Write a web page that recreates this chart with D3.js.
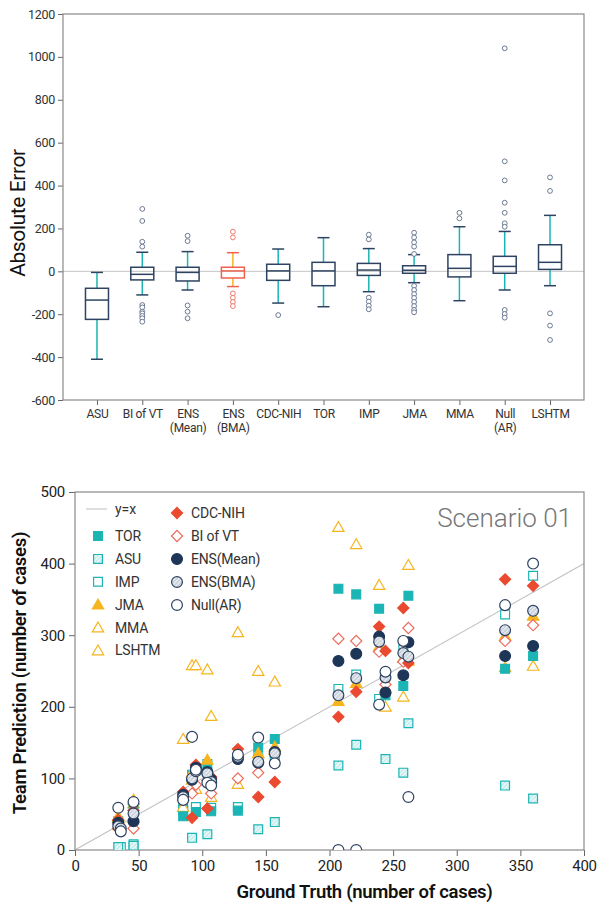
<!DOCTYPE html>
<html><head><meta charset="utf-8">
<script src="https://cdn.jsdelivr.net/npm/d3@7"></script>
<style>
body{margin:0;background:#fff}
text{font-family:Roboto,"Noto Sans",sans-serif}
</style>
</head><body>
<svg id="c" width="604" height="912"></svg>
<script>
// ---------- Box plot data ----------
const boxCategories = ["ASU","BI of VT","ENS\n(Mean)","ENS\n(BMA)","CDC-NIH","TOR","IMP","JMA","MMA","Null\n(AR)","LSHTM"];
const whiskerLow  = [-410,-110,-87,-71,-148,-165,-95,-53,-137,-87,-67];
const q1          = [-224,-40,-45,-31,-42,-67,-19,-9,-26,-9,9];
const median      = [-134,-14,-5,2,2,2,6,5,14,23,42];
const q3          = [-79,19,19,19,33,42,37,26,78,70,124];
const whiskerHigh = [-5,89,92,87,104,157,106,78,208,186,261];
const outliers = [
  [],
  [291,235,138,115,-157,-168,-188,-196,-208,-219,-235],
  [166,141,-159,-188,-219],
  [185,158,-103,-123,-143,-162],
  [-204],
  [],
  [171,149,-123,-141,-160,-177],
  [180,158,135,115,81,-68,-87,-106,-124,-143,-162,-180,-191],
  [273,247],
  [1040,513,424,320,273,224,208,-180,-199,-216],
  [438,375,-196,-253,-320]
];
const boxTicks = [1200,1000,800,600,400,200,0,-200,-400,-600];

// ---------- Scatter data ----------
const groundTruth = [34,36,46,85,92,95,104,107,128,144,157,207,221,239,244,258,262,338,360];
const seriesNames = ["TOR","ASU","IMP","JMA","MMA","LSHTM","CDC-NIH","BI of VT","ENS(Mean)","ENS(BMA)","Null(AR)"];
const predTOR   = [40,null,60,47,105,53,120,54,55,143,155,365,357,337,216,229,355,253,271];
const predASU   = [4,null,6,56,17,null,22,null,null,29,39,118,147,null,127,108,177,90,72];
const predIMP   = [null,4,8,60,null,60,null,59,60,128,130,225,245,211,null,280,null,329,383];
const predJMA   = [47,null,70,75,108,118,126,100,135,135,144,208,233,284,225,268,264,299,327];
const predMMA   = [44,null,65,60,98,85,null,74,92,null,140,null,null,null,200,214,null,255,257];
const predLSHTM = [35,null,45,155,258,258,252,187,304,250,235,451,427,370,null,null,398,null,null];
const predCDC   = [42,null,55,81,45,119,58,102,141,74,95,186,221,312,278,338,261,378,369];
const predBI    = [30,null,30,70,79,91,97,79,100,108,134,295,292,277,231,263,310,292,314];
const predENSMean = [38,null,40,77,98,115,109,98,127,122,137,264,274,298,220,244,290,271,285];
const predENSBMA  = [33,30,51,74,100,110,107,95,130,123,135,216,240,291,241,275,270,307,334];
const predNull    = [59,26,67,70,158,112,94,90,133,157,121,0,0,203,249,292,74,342,400];
const seriesValues = [predTOR,predASU,predIMP,predJMA,predMMA,predLSHTM,predCDC,predBI,predENSMean,predENSBMA,predNull];
const xTicks = [0,50,100,150,200,250,300,350,400];
const yTicks = [0,100,200,300,400,500];

// ---------- styles ----------
const TEAL="#1bb5b5", ORANGE="#f6b51e", RED="#ea4a2f", NAVY="#1d3557", GRAYF="#666";
const styles = {
  "TOR":{shape:"square",fill:TEAL,stroke:TEAL},
  "ASU":{shape:"square",fill:"url(#hatchTeal)",stroke:TEAL},
  "IMP":{shape:"square",fill:"#fff",stroke:TEAL},
  "JMA":{shape:"triangle",fill:ORANGE,stroke:ORANGE},
  "MMA":{shape:"triangle",fill:"#fff",stroke:ORANGE},
  "LSHTM":{shape:"triangle",fill:"#fff",stroke:ORANGE},
  "CDC-NIH":{shape:"diamond",fill:RED,stroke:RED},
  "BI of VT":{shape:"diamond",fill:"#fff",stroke:"#ee6b5c"},
  "ENS(Mean)":{shape:"circle",fill:NAVY,stroke:NAVY},
  "ENS(BMA)":{shape:"circle",fill:"url(#hatchNavy)",stroke:"#2e4361"},
  "Null(AR)":{shape:"circle",fill:"#fff",stroke:"#2e4361"}
};
const symPaths = {
  square: d3.symbol(d3.symbolSquare, 78)(),
  triangle: d3.symbol(d3.symbolTriangle, 56)(),
  diamond: d3.symbol(d3.symbolSquare, 62)(),
  circle: d3.symbol(d3.symbolCircle, 92)()
};
const plainFmt = d => String(d);

const svg = d3.select("#c");
const defs = svg.append("defs");
function hatch(id, bg, line){
  const p = defs.append("pattern").attr("id",id).attr("patternUnits","userSpaceOnUse")
    .attr("width",3).attr("height",3).attr("patternTransform","rotate(45)");
  p.append("rect").attr("width",3).attr("height",3).attr("fill",bg);
  p.append("line").attr("x1",0).attr("y1",0).attr("x2",0).attr("y2",3).attr("stroke",line).attr("stroke-width",1);
}
hatch("hatchTeal","#e6f7f7","#8fd8d8");
hatch("hatchNavy","#e3e8ef","#9aa6b8");

function drawMarker(g, name, x, y){
  const s = styles[name];
  const p = g.append("path").attr("d", symPaths[s.shape])
    .attr("fill", s.fill).attr("stroke", s.stroke).attr("stroke-width", 1.2);
  let t = `translate(${x},${y})`;
  if (s.shape==="diamond") t += " rotate(45)";
  if (s.shape==="triangle") t += " translate(0,1)";
  p.attr("transform", t);
}

// ================= TOP: box plot =================
const T = {l:63, r:584, t:14, b:400};
const xb = d3.scalePoint().domain(boxCategories).range([T.l, T.r]).padding(0.75);
const yb = d3.scaleLinear().domain([-600,1200]).range([T.b, T.t]);

const gTop = svg.append("g");
gTop.append("line").attr("x1",T.l).attr("x2",T.r).attr("y1",yb(0)).attr("y2",yb(0))
  .attr("stroke","#c4c4c4").attr("stroke-width",1);

const yAxisB = gTop.append("g").attr("transform",`translate(${T.l},0)`)
  .call(d3.axisLeft(yb).tickValues(boxTicks).tickFormat(plainFmt).tickSize(5).tickPadding(3));
yAxisB.selectAll("text").attr("font-size",12.5).attr("fill","#333").attr("letter-spacing","-0.3");
const xAxisB = gTop.append("g").attr("transform",`translate(0,${T.b})`)
  .call(d3.axisBottom(xb).tickSize(5).tickPadding(4));
xAxisB.selectAll("text").each(function(d){
  const lines = d.split("\n");
  const t = d3.select(this).text(null).attr("font-size",12).attr("fill","#333").attr("letter-spacing","-0.3");
  lines.forEach((ln,i)=> t.append("tspan").attr("x",0).attr("dy", i===0? "0.71em" : "1.2em").text(ln));
});
[yAxisB, xAxisB].forEach(a=>{ a.selectAll(".domain").remove(); a.selectAll(".tick line").attr("stroke",GRAYF); });
gTop.append("rect").attr("x",T.l).attr("y",T.t).attr("width",T.r-T.l).attr("height",T.b-T.t)
  .attr("fill","none").attr("stroke","#8a8a8a").attr("stroke-width",1.2);

gTop.append("text").attr("transform",`translate(25,${(T.t+T.b)/2+6}) rotate(-90)`)
  .attr("text-anchor","middle").attr("font-size",21).attr("fill","#111").attr("letter-spacing","-0.4")
  .text("Absolute Error");

const boxW = 23, capW = 12;
boxCategories.forEach((c,i)=>{
  const cx = xb(c);
  const special = c.indexOf("BMA")>=0;
  const boxCol = special ? "#f0604d" : "#2e4361";
  const whCol = special ? ORANGE : TEAL;
  const capCol = special ? "#f0604d" : "#2e4361";
  const outCol = special ? "#f07a6c" : "#6b7a92";
  const g = gTop.append("g");
  g.append("line").attr("x1",cx).attr("x2",cx).attr("y1",yb(whiskerHigh[i])).attr("y2",yb(q3[i]))
    .attr("stroke",whCol).attr("stroke-width",1.5);
  g.append("line").attr("x1",cx).attr("x2",cx).attr("y1",yb(q1[i])).attr("y2",yb(whiskerLow[i]))
    .attr("stroke",whCol).attr("stroke-width",1.5);
  [whiskerHigh[i], whiskerLow[i]].forEach(v=>{
    g.append("line").attr("x1",cx-capW/2).attr("x2",cx+capW/2).attr("y1",yb(v)).attr("y2",yb(v))
      .attr("stroke",capCol).attr("stroke-width",1.5);
  });
  g.append("rect").attr("x",cx-boxW/2).attr("width",boxW).attr("y",yb(q3[i])).attr("height",yb(q1[i])-yb(q3[i]))
    .attr("fill","none").attr("stroke",boxCol).attr("stroke-width",1.5);
  g.append("line").attr("x1",cx-boxW/2).attr("x2",cx+boxW/2).attr("y1",yb(median[i])).attr("y2",yb(median[i]))
    .attr("stroke",boxCol).attr("stroke-width",1.5);
  outliers[i].forEach(v=>{
    g.append("circle").attr("cx",cx).attr("cy",yb(v)).attr("r",2.4)
      .attr("fill","#fff").attr("stroke",outCol).attr("stroke-width",1);
  });
});

// ================= BOTTOM: scatter =================
const B = {l:75, r:584, t:492, b:850};
const xs = d3.scaleLinear().domain([0,400]).range([B.l, B.r]);
const ys = d3.scaleLinear().domain([0,500]).range([B.b, B.t]);
const gBot = svg.append("g");
defs.append("clipPath").attr("id","clipB").append("rect")
  .attr("x",B.l).attr("y",B.t).attr("width",B.r-B.l).attr("height",B.b-B.t);

gBot.append("line").attr("clip-path","url(#clipB)")
  .attr("x1",xs(0)).attr("y1",ys(0)).attr("x2",xs(400)).attr("y2",ys(400))
  .attr("stroke","#c4c4c4").attr("stroke-width",1.1);

const xAxisS = gBot.append("g").attr("transform",`translate(0,${B.b})`)
  .call(d3.axisBottom(xs).tickValues(xTicks).tickFormat(plainFmt).tickSize(6).tickPadding(4));
const yAxisS = gBot.append("g").attr("transform",`translate(${B.l},0)`)
  .call(d3.axisLeft(ys).tickValues(yTicks).tickFormat(plainFmt).tickSize(6).tickPadding(4));
[xAxisS,yAxisS].forEach(a=>{
  a.selectAll(".domain").remove();
  a.selectAll(".tick line").attr("stroke",GRAYF);
  a.selectAll("text").attr("font-size",15).attr("fill","#222").attr("letter-spacing","-0.3");
});
gBot.append("rect").attr("x",B.l).attr("y",B.t).attr("width",B.r-B.l).attr("height",B.b-B.t)
  .attr("fill","none").attr("stroke","#8a8a8a").attr("stroke-width",1.2);

gBot.append("text").attr("x",(B.l+B.r)/2+35).attr("y",898).attr("text-anchor","middle")
  .attr("font-size",18.5).attr("font-weight",600).attr("fill","#111").attr("letter-spacing","-0.3")
  .text("Ground Truth (number of cases)");
gBot.append("text").attr("transform",`translate(26,${(B.t+B.b)/2+2}) rotate(-90)`)
  .attr("text-anchor","middle").attr("font-size",18.5).attr("font-weight",600).attr("fill","#111").attr("letter-spacing","-0.3")
  .text("Team Prediction (number of cases)");
gBot.append("text").attr("x",572).attr("y",527).attr("text-anchor","end")
  .attr("font-size",26).attr("font-weight",300).attr("fill","#777").text("Scenario 01");

const gPts = gBot.append("g").attr("clip-path","url(#clipB)");
const drawOrder = ["IMP","ASU","LSHTM","MMA","TOR","JMA","BI of VT","CDC-NIH","ENS(Mean)","ENS(BMA)","Null(AR)"];
drawOrder.forEach(name=>{
  const vals = seriesValues[seriesNames.indexOf(name)];
  groundTruth.forEach((gt,j)=>{
    if (vals[j]===null || vals[j]===undefined) return;
    drawMarker(gPts, name, xs(gt), ys(vals[j]));
  });
});

// legend
const gLeg = gBot.append("g");
gLeg.append("line").attr("x1",86).attr("x2",107).attr("y1",509).attr("y2",509).attr("stroke","#c4c4c4").attr("stroke-width",1.1);
gLeg.append("text").attr("x",115).attr("y",509).attr("dy","0.35em").attr("font-size",14).attr("fill","#333").text("y=x");
const legCol1 = ["TOR","ASU","IMP","JMA","MMA","LSHTM"];
const legCol2 = ["CDC-NIH","BI of VT","ENS(Mean)","ENS(BMA)","Null(AR)"];
legCol1.forEach((n,i)=>{
  const y = 536 + i*22.9;
  drawMarker(gLeg, n, 98, y);
  gLeg.append("text").attr("x",115).attr("y",y).attr("dy","0.35em").attr("font-size",14).attr("fill","#333").attr("letter-spacing","-0.2").text(n);
});
legCol2.forEach((n,i)=>{
  const y = 513 + i*23;
  drawMarker(gLeg, n, 177, y);
  gLeg.append("text").attr("x",191).attr("y",y).attr("dy","0.35em").attr("font-size",14).attr("fill","#333").attr("letter-spacing","-0.2").text(n);
});
</script>
</body></html>
